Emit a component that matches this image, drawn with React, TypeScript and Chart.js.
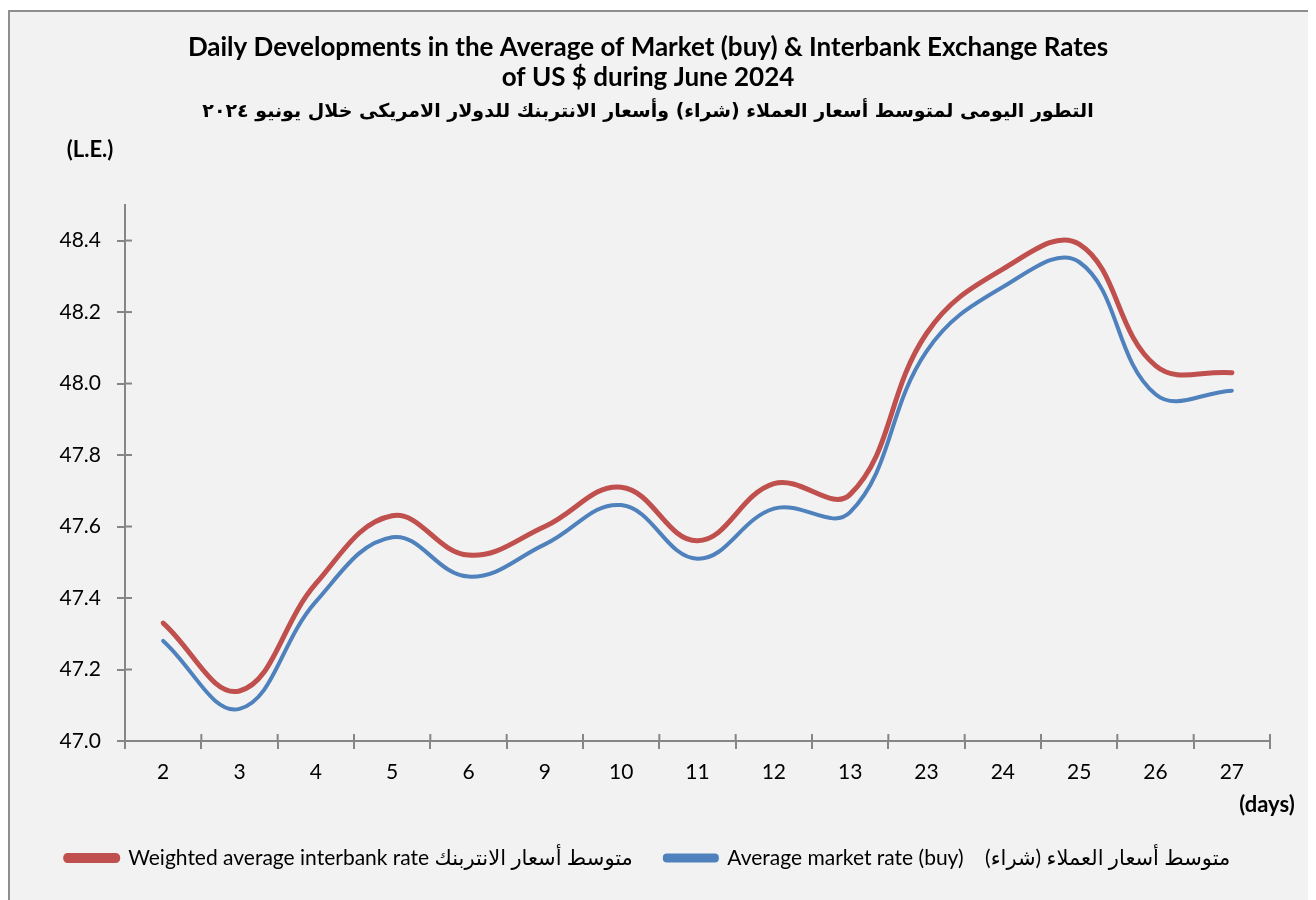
import React, { useEffect, useRef } from 'react';
import { Chart, registerables } from 'chart.js';

Chart.register(...registerables);

const days = ['2', '3', '4', '5', '6', '9', '10', '11', '12', '13', '23', '24', '25', '26', '27'];
const interbankRate = [47.33, 47.14, 47.44, 47.63, 47.52, 47.6, 47.71, 47.56, 47.72, 47.69, 48.14, 48.32, 48.39, 48.05, 48.03];
const marketRate = [47.28, 47.09, 47.39, 47.57, 47.46, 47.55, 47.66, 47.51, 47.65, 47.64, 48.09, 48.27, 48.34, 47.97, 47.98];

const titleLines = [
  'Daily Developments in the Average of Market (buy) & Interbank Exchange Rates',
  'of US $ during June 2024',
];
const arabicTitle = 'التطور اليومى لمتوسط أسعار العملاء (شراء) وأسعار الانتربنك للدولار الامريكى خلال يونيو ٢٠٢٤';
const interbankLabel = 'Weighted average interbank rate متوسط أسعار الانتربنك';
const marketLabel = 'Average market rate (buy)    متوسط أسعار العملاء (شراء)';
const yUnit = '(L.E.)';
const xUnit = '(days)';

const AXIS = '#868686';
const RED = '#C0504D';
const BLUE = '#4F81BD';
const FONT = 'Lato, "DejaVu Sans", sans-serif';

export default function App() {
  const ref = useRef<HTMLCanvasElement>(null);

  useEffect(() => {
    if (!ref.current) return;
    const decor = {
      id: 'decor',
      beforeDatasetsDraw(chart: any) {
        const { ctx, chartArea, scales } = chart;
        ctx.save();
        ctx.strokeStyle = AXIS;
        ctx.lineWidth = 2;
        scales.y.ticks.forEach((t: any) => {
          const py = scales.y.getPixelForValue(t.value);
          ctx.beginPath();
          ctx.moveTo(chartArea.left, py);
          ctx.lineTo(chartArea.left + 7, py);
          ctx.stroke();
        });
        const n = days.length;
        for (let i = 0; i <= n; i++) {
          const px = scales.x.left + (i * scales.x.width) / n;
          ctx.beginPath();
          ctx.moveTo(px, chartArea.bottom);
          ctx.lineTo(px, chartArea.bottom - 7);
          ctx.stroke();
        }
        ctx.restore();
      },
      afterDraw(chart: any) {
        const { ctx, chartArea } = chart;
        ctx.save();
        ctx.fillStyle = '#000';
        ctx.font = 'bold 22px ' + FONT;
        ctx.textAlign = 'center';
        ctx.textBaseline = 'middle';
        ctx.fillText(yUnit, chartArea.left - 35, chartArea.top - 55);
        ctx.fillText(xUnit, chartArea.right - 3, chartArea.bottom + 64);
        ctx.restore();
      },
    };

    const chart = new Chart(ref.current, {
      type: 'line',
      data: {
        labels: days,
        datasets: [
          {
            label: interbankLabel,
            data: interbankRate,
            borderColor: RED,
            backgroundColor: RED,
            borderWidth: 5,
            pointRadius: 0,
            tension: 0.4,
            borderCapStyle: 'round',
          },
          {
            label: marketLabel,
            data: marketRate,
            borderColor: BLUE,
            backgroundColor: BLUE,
            borderWidth: 4,
            pointRadius: 0,
            tension: 0.4,
            borderCapStyle: 'round',
          },
        ],
      },
      options: {
        animation: false,
        responsive: false,
        maintainAspectRatio: false,
        layout: { padding: { left: 16, right: 41, top: 0, bottom: 21.5 } },
        plugins: {
          title: {
            display: true,
            text: titleLines,
            color: '#000',
            font: { family: FONT, size: 26, weight: 'bold', lineHeight: 1.15 },
            padding: { top: 21, bottom: 0 },
          },
          subtitle: {
            display: true,
            text: arabicTitle,
            color: '#000',
            font: { family: '"DejaVu Sans", sans-serif', size: 19, weight: 'bold', lineHeight: 1.2 },
            padding: { top: 7.6, bottom: 81.6 },
          },
          legend: {
            position: 'bottom',
            labels: {
              color: '#000',
              font: { family: FONT, size: 21 },
              boxWidth: 52,
              boxHeight: 5,
              useBorderRadius: true,
              borderRadius: 2,
              padding: 32,
            },
          },
          tooltip: { enabled: false },
        },
        scales: {
          x: {
            offset: true,
            grid: { display: true, drawOnChartArea: false, drawTicks: true, tickLength: 8, color: AXIS, lineWidth: 2, offset: true },
            border: { display: true, color: AXIS, width: 2 },
            ticks: { color: '#000', font: { family: FONT, size: 21 }, padding: 11, maxRotation: 0, autoSkip: false },
            afterFit: (s: any) => { s.height = 74.5; },
          },
          y: {
            min: 47.0,
            max: 48.5,
            grid: { display: true, drawOnChartArea: false, drawTicks: true, tickLength: 8, color: AXIS, lineWidth: 2 },
            border: { display: true, color: AXIS, width: 2 },
            ticks: {
              stepSize: 0.2,
              includeBounds: false,
              color: '#000',
              font: { family: FONT, size: 21 },
              padding: 16,
              callback: (v: any) => Number(v).toFixed(1),
            },
            afterFit: (s: any) => { s.width = 99; },
          },
        },
      },
      plugins: [decor],
    });
    return () => chart.destroy();
  }, []);

  return (
    <div
      style={{
        marginTop: 2,
        width: 1301,
        height: 888,
        border: '2px solid #8f8f8f',
        background: '#F2F2F2',
      }}
    >
      <canvas ref={ref} width={1301} height={888} style={{ display: 'block' }} />
    </div>
  );
}
